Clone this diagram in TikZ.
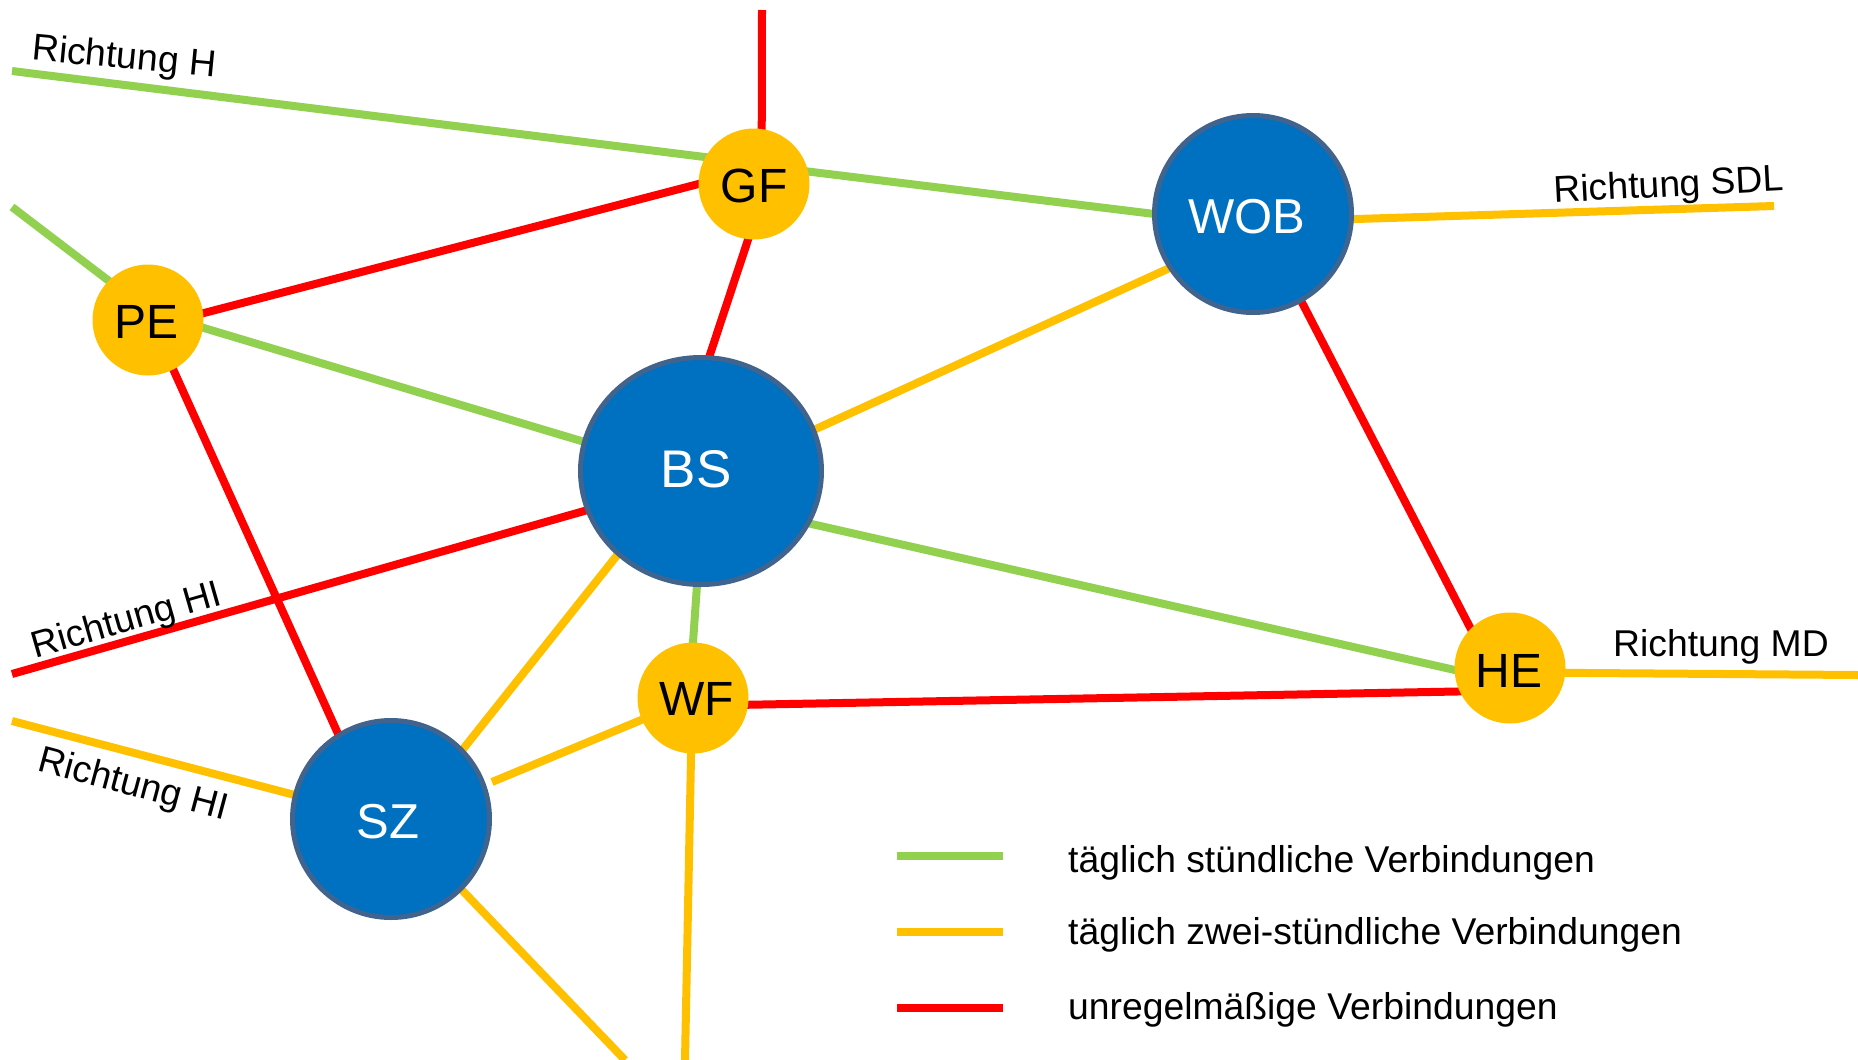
\documentclass[tikz,border=0pt]{standalone}
\usepackage{fontspec}
\setmainfont{Liberation Sans}
\usetikzlibrary{backgrounds,shapes.geometric}
\definecolor{hgreen}{HTML}{92D050}
\definecolor{hyellow}{HTML}{FFC000}
\definecolor{hred}{HTML}{FF0000}
\definecolor{hblue}{HTML}{0070C0}
\definecolor{hedge}{HTML}{41648F}
\newcommand\lbl[3]{\kern#1pt\raisebox{#2pt}[0.716em][0pt]{#3}}
\tikzset{
  x=1pt,y=-1pt,
  hub/.style={fill=hblue,draw=hedge,line width=5pt,inner sep=0pt,outer sep=0pt,text=white,font=\fontsize{49}{52}\selectfont},
  big/.style={hub,circle,minimum size=197pt},
  huge/.style={hub,ellipse,minimum width=241pt,minimum height=227pt,font=\fontsize{53}{56}\selectfont},
  stop/.style={circle,fill=hyellow,inner sep=0pt,outer sep=0pt,minimum size=111pt,text=black,font=\fontsize{48}{51}\selectfont},
  conn/.style={line width=8pt,shorten <=-3pt,shorten >=-3pt},
  gr/.style={conn,draw=hgreen},
  ye/.style={conn,draw=hyellow},
  re/.style={conn,draw=hred},
  lab/.style={inner sep=0pt,font=\fontsize{37.3}{40}\selectfont,text=black},
  legtext/.style={lab,anchor=west},
  legline/.style={line width=8pt},
}
\begin{document}
\begin{tikzpicture}
\useasboundingbox (0,0) rectangle (1858,1060);
% nodes
\node[huge] (BS) at (701,471) {\lbl{-10}{2}{BS}};
\node[big] (WOB) at (1253,214) {\lbl{-12}{-2}{WOB}};
\node[big] (SZ) at (391,819) {\lbl{-6}{-2}{SZ}};
\node[stop] (GF) at (754,184) {\lbl{0}{-1}{GF}};
\node[stop] (PE) at (148,320) {\lbl{-3}{-1}{PE}};
\node[stop] (WF) at (693,698) {\lbl{7}{0}{WF}};
\node[stop] (HE) at (1510,668) {\lbl{-2}{-2}{HE}};
% free ends
\coordinate (eH) at (12,71);
\coordinate (ePE) at (12,207);
\coordinate (eTop) at (762,10);
\coordinate (eHIr) at (12,674);
\coordinate (eHIy) at (12,721);
\coordinate (eSDL) at (1774,206);
\coordinate (eMD) at (1858,675);
\coordinate (eSZb) at (625,1060);
\coordinate (eWFb) at (685,1060);
\coordinate (eSZWF) at (492,782);
\begin{scope}[on background layer]
\draw[gr,shorten <=0pt] (eH) -- (GF.151);
\draw[gr] (GF.13.5) -- (WOB.180);
\draw[gr,shorten <=0pt] (ePE) -- (PE.135);
\draw[gr] (PE.-8) -- (BS.166);
\draw[gr] (BS.-26.4) -- (HE.182);
\draw[gr] (BS.-92) -- (WF.90);
\draw[re,shorten <=0pt] (eTop) -- (GF.82.6);
\draw[re] (PE.7.5) -- (GF.180);
\draw[re] (GF.-96) -- (BS.86);
\draw[re] (PE.-63) -- (SZ.122);
\draw[re,shorten <=0pt] (eHIr) -- (BS.199.8);
\draw[re] (WOB.-61.4) -- (HE.135);
\draw[re] (WF.-7.4) -- (HE.205);
\draw[ye,shorten >=0pt] (WOB.-3) -- (eSDL);
\draw[ye] (BS.20.2) -- (WOB.213);
\draw[ye] (BS.225.7) -- (SZ.44.6);
\draw[ye,shorten <=0pt] (eSZWF) -- (WF.203.5);
\draw[ye,shorten <=0pt] (eHIy) -- (SZ.166.8);
\draw[ye,shorten >=0pt] (SZ.-45.4) -- (eSZb);
\draw[ye,shorten >=0pt] (WF.-92) -- (eWFb);
\draw[ye,shorten >=0pt] (HE.-5) -- (eMD);
\end{scope}
% direction labels
\node[lab,rotate=-5.5] (lH) at (124,59) {Richtung H};
\node[lab,rotate=3] (lSDL) at (1669,187) {Richtung SDL};
\node[lab] (lMD) at (1721,647) {Richtung MD};
\node[lab,rotate=16] (lHIa) at (127,622) {Richtung HI};
\node[lab,rotate=-15] (lHIb) at (133,786) {Richtung HI};
% legend
\coordinate (la1) at (897,856); \coordinate (lb1) at (1003,856);
\coordinate (la2) at (897,932); \coordinate (lb2) at (1003,932);
\coordinate (la3) at (897,1008); \coordinate (lb3) at (1003,1008);
\draw[legline,draw=hgreen] (la1) -- (lb1);
\draw[legline,draw=hyellow] (la2) -- (lb2);
\draw[legline,draw=hred] (la3) -- (lb3);
\node[legtext] (t1) at (1068,863) {täglich stündliche Verbindungen};
\node[legtext] (t2) at (1068,935) {täglich zwei-stündliche Verbindungen};
\node[legtext] (t3) at (1068,1010) {unregelmäßige Verbindungen};
\end{tikzpicture}
\end{document}
